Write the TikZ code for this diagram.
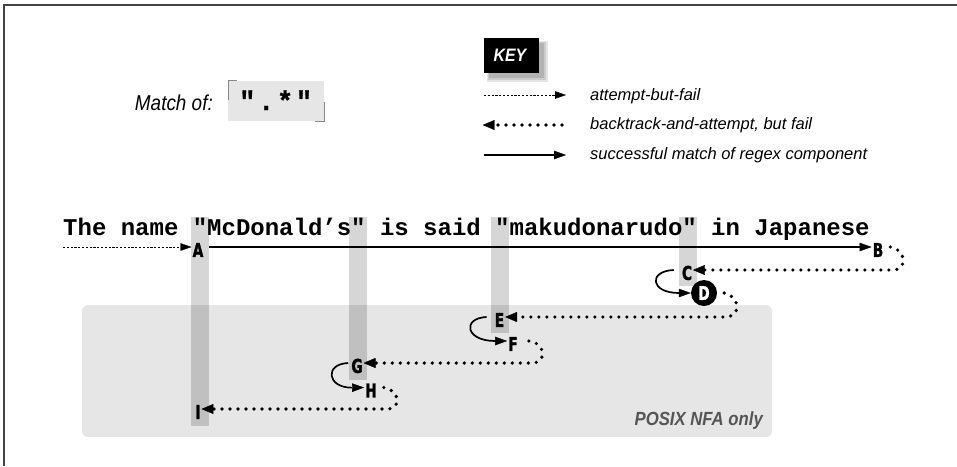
\documentclass[tikz,border=0pt]{standalone}
\usepackage{fontspec}
\setmainfont{Liberation Sans}
\newfontfamily\narrowsans[FakeStretch=0.88]{Liberation Sans}
\newfontfamily\labelsans[FakeStretch=0.72,FakeBold=1.5]{DejaVu Sans}
\newfontfamily\codefont{Liberation Mono}
\newfontfamily\regexfont[LetterSpace=10,FakeBold=1]{Liberation Mono}
\usetikzlibrary{arrows.meta}
\definecolor{framec}{HTML}{444444}
\definecolor{boxc}{HTML}{E6E6E6}
\definecolor{bandc}{HTML}{D6D6D6}
\definecolor{bandboxc}{HTML}{C0C0C0}
\definecolor{posixc}{HTML}{555555}
\definecolor{markc}{HTML}{888888}
\begin{document}
\begin{tikzpicture}[x=1pt,y=-1pt,
  lbl/.style={font=\labelsans\bfseries\fontsize{19}{19}\selectfont, inner xsep=1pt, inner ysep=0pt, text height=13.8pt, text depth=0pt},
  keytext/.style={font=\itshape\fontsize{16.5}{16.5}\selectfont, anchor=base west, inner sep=0pt},
  failline/.style={line width=0.8pt, dash pattern=on 2.2pt off 1.6pt, -{Triangle[length=11pt,width=7.5pt,line width=0.4pt]}},
  backline/.style={line width=3.6pt, line cap=round, dash pattern=on 0pt off 8pt, -{Triangle[length=12pt,width=10pt,line width=0.4pt,round=false]}},
  succline/.style={line width=1.6pt, -{Triangle[length=12pt,width=8.5pt,line width=0.4pt]}},
  loopline/.style={line width=1.7pt, -{Triangle[length=12pt,width=8.5pt,line width=0.4pt]}},
  band/.style={fill=bandc, draw=none},
  bandbox/.style={fill=bandboxc, draw=none}]
\useasboundingbox (0,0) rectangle (957,466);
% frame
\draw[line width=1.5pt, framec] (4,466) -- (4,5) -- (957,5);
% Match of
\node[font=\narrowsans\itshape\fontsize{21.5}{21.5}\selectfont, anchor=base east, inner sep=0pt] (matchof) at (213,110) {Match of:};
\fill[boxc] (228,81) rectangle (324,121);
\draw[markc, line width=0.8pt] (228,100) -- (228,80.5) -- (237,80.5);
\draw[markc, line width=0.8pt] (324,102) -- (324,121) -- (315,121);
\node[font=\regexfont\bfseries\fontsize{27}{27}\selectfont, anchor=base west, inner sep=0pt] (regex) at (239,110) {".*"};
% KEY
\fill[gray!20] (487,41) rectangle (548,82);
\fill[gray!40] (488,42) rectangle (546,80);
\fill[gray!60] (489,43) rectangle (544,78);
\fill[black] (484,38) rectangle (539,73);
\node[font=\narrowsans\bfseries\itshape\fontsize{18}{18}\selectfont, text=white, inner sep=0pt] (key) at (510,55.5) {KEY};
% legend
\coordinate (k1a) at (484,95); \coordinate (k1b) at (566,95);
\coordinate (k2a) at (562,125); \coordinate (k2b) at (483,125);
\coordinate (k3a) at (484,155); \coordinate (k3b) at (566,155);
\draw[failline] (k1a) -- (k1b);
\draw[backline] (k2a) -- (k2b);
\draw[succline] (k3a) -- (k3b);
\node[keytext] (t1) at (590,100) {attempt-but-fail};
\node[keytext] (t2) at (590,129.5) {backtrack-and-attempt, but fail};
\node[keytext] (t3) at (590,159) {successful match of regex component};
% POSIX box
\fill[boxc, rounded corners=6pt] (82,305) rectangle (772,437);
% bands
\fill[band] (191,217) rectangle (209,426);
\fill[band] (349,217) rectangle (367,380);
\fill[band] (491,217) rectangle (509,333);
\fill[band] (679,217) rectangle (697,286);
\fill[bandbox] (191,305) rectangle (209,426);
\fill[bandbox] (349,305) rectangle (367,380);
\fill[bandbox] (491,305) rectangle (509,333);
\node[font=\narrowsans\bfseries\itshape\fontsize{19}{19}\selectfont, text=posixc, anchor=base east, inner sep=0pt] (posix) at (763,425) {POSIX NFA only};
% subject text
\node[font=\codefont\bfseries\fontsize{24}{24}\selectfont, anchor=base west, inner sep=0pt] (subject) at (63,235) {The name "McDonald’s" is said "makudonarudo" in Japanese};
% labels
\node[lbl] (A) at (198,250) {A};
\node[lbl] (B) at (878,250) {B};
\node[lbl] (C) at (687,273) {C};
\node[circle, fill=black, text=white, minimum size=26pt, inner sep=0pt, font=\labelsans\bfseries\fontsize{19}{19}\selectfont] (D) at (704,293) {D};
\node[lbl] (E) at (499.5,320) {E};
\node[lbl] (F) at (513,344) {F};
\node[lbl] (G) at (357,366) {G};
\node[lbl] (H) at (371,390.5) {H};
\node[lbl] (I) at (198,412) {I};
% connectors
\coordinate (start) at (63,247);
\draw[failline] (start) -- ([yshift=3pt]A.west);
\draw[succline] ([xshift=5pt,yshift=3pt]A.east) -- ([yshift=3pt]B.west);
\draw[backline] ([xshift=6pt,yshift=3pt]B.east) .. controls (906,249) and (908,270) .. (893,270) -- ([yshift=3pt]C.east);
\draw[loopline] ([xshift=-7pt,yshift=3pt]C.west) .. controls (648,271) and (650,293) .. (D.west);
\draw[backline] ([xshift=7pt]D.east) .. controls (740,296) and (742,317) .. (725,317) -- ([yshift=3pt]E.east);
\draw[loopline] ([xshift=-7pt,yshift=3pt]E.west) .. controls (462,318) and (465,341) .. ([yshift=3pt]F.west);
\draw[backline] ([xshift=10pt,yshift=3pt]F.east) .. controls (545,342) and (548,363) .. (532,363) -- ([yshift=3pt]G.east);
\draw[loopline] ([xshift=-2pt,yshift=3pt]G.west) .. controls (324,364) and (327,388) .. ([yshift=3pt]H.west);
\draw[backline] ([xshift=6pt,yshift=3pt]H.east) .. controls (400,390) and (402,409) .. (387,409) -- ([yshift=3pt]I.east);
\end{tikzpicture}
\end{document}
